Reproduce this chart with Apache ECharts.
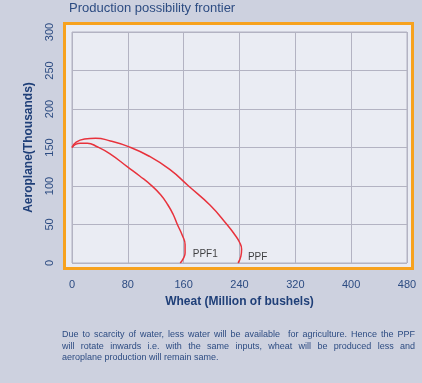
<!DOCTYPE html>
<html>
<head>
<meta charset="utf-8">
<script src="https://cdn.jsdelivr.net/npm/echarts@6/dist/echarts.min.js"></script>
<style>
  body { margin: 0; background: #cdd1df; }
  #main { width: 422px; height: 383px; position: absolute; left: 0; top: 0; }
  .note {
    position: absolute; left: 62px; top: 329px; width: 353px;
    font-family: Arial, "Liberation Sans", sans-serif; font-size: 9px; line-height: 11.5px;
    color: #2d4c82;
  }
  .note .j { text-align: justify; text-align-last: justify; }
</style>
</head>
<body>
<div id="main"></div>
<div class="note">
  <div class="j">Due to scarcity of water, less water will be available&nbsp; for agriculture. Hence the PPF</div>
  <div class="j">will rotate inwards i.e. with the same inputs, wheat will be produced less and</div>
  <div>aeroplane production will remain same.</div>
</div>
<script>
// 曲线数据 (x: 小麦, y: 飞机)
var ppf = [[0,150],[6,157],[18,161],[34,162],[55,158.5],[80,151.5],[110,139],[140,121.5],[167,100],
           [198,75],[222,50],[233,37],[240,27],[243,18],[242,9],[238,0]];
var ppf1 = [[0,150],[5,154],[12,155.5],[22,155.5],[36,151],[54,142],[80,124.5],[97,113],[114,100.5],
            [127,88.5],[137,76],[145,63],[151,50],[158,36],[162,24],[162,13],[159,5],[155,0]];
var curveLabels = [[173,11,'PPF1'],[252,8,'PPF']];

var font = 'Arial, "Liberation Sans", sans-serif';
var myChart = echarts.init(document.getElementById('main'));
var option = {
  backgroundColor: '#cdd1df',
  animation: false,
  title: {
    text: 'Production possibility frontier',
    left: 64, top: -3,
    textStyle: { fontFamily: font, fontSize: 13, fontWeight: 'normal', color: '#2d4c82' }
  },
  graphic: [{
    type: 'rect', z: -10,
    shape: { x: 64.5, y: 23.5, width: 348, height: 245 },
    style: { fill: '#eaecf3', stroke: '#f7a21e', lineWidth: 3 }
  }],
  grid: {
    left: 72, right: 15, top: 32, bottom: 120,
    show: true, borderColor: '#b3b3c2', borderWidth: 1, backgroundColor: 'transparent'
  },
  xAxis: {
    type: 'value', min: 0, max: 480, interval: 80,
    name: 'Wheat (Million of bushels)', nameLocation: 'middle', nameGap: 33,
    nameTextStyle: { fontFamily: font, fontSize: 12, fontWeight: 'bold', color: '#1f3f78' },
    axisLine: { show: false }, axisTick: { show: false },
    axisLabel: { margin: 16, fontFamily: font, fontSize: 11, color: '#2d4c82' },
    splitLine: { lineStyle: { color: '#b3b3c2', width: 1 } }
  },
  yAxis: {
    type: 'value', min: 0, max: 300, interval: 50,
    name: 'Aeroplane(Thousands)', nameLocation: 'middle', nameGap: 37, nameRotate: 90,
    nameTextStyle: { fontFamily: font, fontSize: 12, fontWeight: 'bold', color: '#1f3f78' },
    axisLine: { show: false }, axisTick: { show: false },
    axisLabel: { rotate: 90, margin: 17, fontFamily: font, fontSize: 11, color: '#2d4c82' },
    splitLine: { lineStyle: { color: '#b3b3c2', width: 1 } }
  },
  series: [{
    name: 'PPF', type: 'line', data: ppf, smooth: 0.5, showSymbol: false,
    lineStyle: { color: '#e8323c', width: 1.5 }
  }, {
    name: 'PPF1', type: 'line', data: ppf1, smooth: 0.5, showSymbol: false,
    lineStyle: { color: '#e8323c', width: 1.5 }
  }, {
    type: 'scatter', data: curveLabels, symbolSize: 0,
    label: {
      show: true, position: 'right', distance: 0,
      formatter: function (p) { return p.value[2]; },
      fontFamily: font, fontSize: 10, color: '#111'
    }
  }]
};
myChart.setOption(option);
</script>
</body>
</html>
